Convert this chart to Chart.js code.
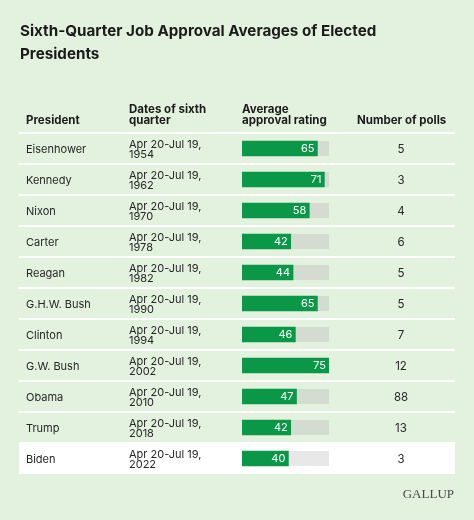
<!DOCTYPE html>
<html>
<head>
<meta charset="utf-8">
<script src="https://cdn.jsdelivr.net/npm/chart.js@4.4.1/dist/chart.umd.min.js"></script>
<style>
  html, body { margin: 0; padding: 0; background: #e3f1df; }
  canvas { display: block; }
</style>
</head>
<body>
<canvas id="approvalChart" width="474" height="520"></canvas>
<script>
// table data
const presidents = ['Eisenhower', 'Kennedy', 'Nixon', 'Carter', 'Reagan', 'G.H.W. Bush',
  'Clinton', 'G.W. Bush', 'Obama', 'Trump', 'Biden'];
const periodLabel = 'Apr 20-Jul 19,';
const years = ['1954', '1962', '1970', '1978', '1982', '1990', '1994', '2002', '2010', '2018', '2022'];
const approval = [65, 71, 58, 42, 44, 65, 46, 75, 47, 42, 40];
const polls = [5, 3, 4, 6, 5, 5, 7, 12, 88, 13, 3];
const scaleMax = 75;

const titleLines = ['Sixth-Quarter Job Approval Averages of Elected', 'Presidents'];
const headers = [
  { x: 26, lines: ['President'] },
  { x: 129, lines: ['Dates of sixth', 'quarter'] },
  { x: 242, lines: ['Average', 'approval rating'] },
  { x: 357, lines: ['Number of polls'] }
];

const GREEN = '#0a9848';
const BG = '#e3f1df';
const FONT = 'Inter, "Noto Sans", sans-serif';

// draws the table around the bar column
const tablePlugin = {
  id: 'tablePlugin',
  beforeDraw(chart) {
    const ctx = chart.ctx;
    const y = chart.scales.y;
    const step = y.getPixelForValue(1) - y.getPixelForValue(0);
    ctx.save();
    ctx.fillStyle = BG;
    ctx.fillRect(0, 0, chart.width, chart.height);

    // title
    ctx.fillStyle = '#1b1b1b';
    ctx.font = 'bold 15.2px ' + FONT;
    ctx.textBaseline = 'alphabetic';
    titleLines.forEach((t, i) => ctx.fillText(t, 20, 36 + i * 23));

    // column headers
    ctx.font = 'bold 11.5px ' + FONT;
    headers.forEach(h => {
      const n = h.lines.length;
      h.lines.forEach((t, i) => ctx.fillText(t, h.x, 124 - (n - 1 - i) * 11.5));
    });

    // last row highlighted in white
    const last = presidents.length - 1;
    const lastTop = y.getPixelForValue(last) - step / 2;
    ctx.fillStyle = '#ffffff';
    ctx.fillRect(19, lastTop, 436, step);

    // row separators
    ctx.strokeStyle = '#ffffff';
    ctx.lineWidth = 2;
    for (let i = 0; i < presidents.length; i++) {
      const yy = y.getPixelForValue(i) - step / 2;
      ctx.beginPath();
      ctx.moveTo(19, yy);
      ctx.lineTo(455, yy);
      ctx.stroke();
    }
    ctx.restore();
  },
  beforeDatasetsDraw(chart) {
    // grey tracks behind the bars
    const ctx = chart.ctx;
    const x = chart.scales.x;
    const meta = chart.getDatasetMeta(0);
    ctx.save();
    meta.data.forEach((bar, i) => {
      ctx.fillStyle = i === presidents.length - 1 ? '#e8e8e8' : '#d4dcd1';
      ctx.fillRect(x.getPixelForValue(0), bar.y - bar.height / 2,
        x.getPixelForValue(scaleMax) - x.getPixelForValue(0), bar.height);
    });
    ctx.restore();
  },
  afterDatasetsDraw(chart) {
    const ctx = chart.ctx;
    const meta = chart.getDatasetMeta(0);
    ctx.save();
    ctx.fillStyle = '#ffffff';
    ctx.font = '11px ' + FONT;
    ctx.textAlign = 'right';
    ctx.textBaseline = 'middle';
    meta.data.forEach((bar, i) => {
      ctx.fillText(approval[i], bar.x - 3, bar.y + 0.5);
    });
    ctx.restore();
  },
  afterDraw(chart) {
    const ctx = chart.ctx;
    const y = chart.scales.y;
    ctx.save();
    ctx.fillStyle = '#262626';
    ctx.font = '11px ' + FONT;
    ctx.textBaseline = 'alphabetic';
    presidents.forEach((p, i) => {
      const cy = y.getPixelForValue(i);
      ctx.textAlign = 'left';
      ctx.fillText(p, 26, cy + 4.5);
      ctx.fillText(periodLabel, 129, cy - 1);
      ctx.fillText(years[i], 129, cy + 9.5);
      ctx.textAlign = 'center';
      ctx.font = '11.5px ' + FONT;
      ctx.fillText(polls[i], 401, cy + 4);
      ctx.font = '11px ' + FONT;
    });

    // logo
    ctx.textAlign = 'right';
    ctx.fillStyle = '#4a4a4a';
    ctx.font = '13px "Liberation Serif", "DejaVu Serif", serif';
    ctx.fillText('GALLUP', 454, 498);
    ctx.restore();
  }
};

const ctx = document.getElementById('approvalChart').getContext('2d');
new Chart(ctx, {
  type: 'bar',
  data: {
    labels: presidents,
    datasets: [{
      label: 'Average approval rating',
      data: approval,
      backgroundColor: GREEN,
      barThickness: 15,
      borderWidth: 0,
      borderRadius: 0
    }]
  },
  options: {
    indexAxis: 'y',
    responsive: false,
    animation: false,
    devicePixelRatio: 1,
    layout: {
      padding: { left: 242, right: 145, top: 133, bottom: 46 }
    },
    plugins: {
      legend: { display: false },
      tooltip: { enabled: false },
      title: { display: false }
    },
    scales: {
      x: { display: false, min: 0, max: scaleMax },
      y: { display: false }
    }
  },
  plugins: [tablePlugin]
});
</script>
</body>
</html>
